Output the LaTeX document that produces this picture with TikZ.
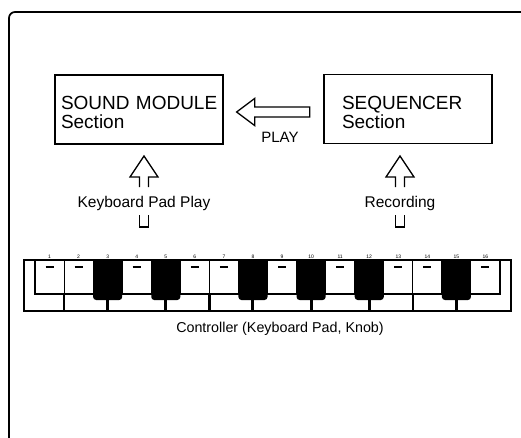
\documentclass[tikz,border=0pt]{standalone}
\usepackage{fontspec}
\setmainfont{Liberation Sans}
\usepackage{tikz}

\begin{document}
\begin{tikzpicture}[x=1pt, y=1pt]

\tikzset{
  box/.style    = {rectangle, draw=black, line width=1.3pt, minimum width=168pt,
                   minimum height=69pt, inner sep=0pt, align=left,
                   font=\fontsize{19}{19}\selectfont},
  lbl/.style    = {inner sep=0pt, anchor=base, font=\fontsize{15.5}{16}\selectfont},
  num/.style    = {inner sep=0pt, anchor=south, font=\fontsize{5}{5}\selectfont},
  fat/.style    = {line width=1.3pt, line join=miter},
  keyln/.style  = {line width=1.1pt},
  pics/fathead/.style = {code={
      \draw[fat] (-4.5,0) -- (-4.5,10) -- (-14,10) -- (0,31) -- (14,10) -- (4.5,10) -- (4.5,0);}},
  pics/fattail/.style = {code={
      \draw[fat] (-4.5,0) -- (-4.5,-12) -- (4.5,-12) -- (4.5,0);}},
  pics/fatleft/.style = {code={
      \draw[fat] (0,0) -- (18,13.5) -- (18,5) -- (73,5) -- (73,-5) -- (18,-5) -- (18,-13.5) -- cycle;}}
}

\useasboundingbox (0,0) rectangle (521,-437);

%% ── Frame ───────────────────────────────────────────────────────
\draw[line width=1.7pt, rounded corners=6pt] (9,-445) -- (9,-12) -- (530,-12);

%% ── Sections ────────────────────────────────────────────────────
\node[box, text width=156pt] (sound) at (139,-109.5)
     {\rule{0pt}{20pt}\mbox{SOUND MODULE}\\Section};
\node[box, text width=132pt] (seq)   at (408,-109)
     {\rule{0pt}{20pt}SEQUENCER\\Section};

%% ── PLAY ────────────────────────────────────────────────────────
\pic at ([xshift=13pt,yshift=-2.5pt]sound.east) {fatleft};
\node[lbl, font=\fontsize{15}{16}\selectfont] (play) at (280,-142) {PLAY};

%% ── Inputs ──────────────────────────────────────────────────────
\node[lbl] (kbplay) at (144,-207) {Keyboard Pad Play};
\node[lbl] (rec)    at (400,-207) {Recording};

\pic at ([yshift=20pt]kbplay.base) {fathead};
\pic at ([yshift=-8pt]kbplay.base) {fattail};
\pic at ([yshift=20pt]rec.base)    {fathead};
\pic at ([yshift=-8pt]rec.base)    {fattail};

%% ── Controller ──────────────────────────────────────────────────
\foreach \k in {1,2,4,6,7,9,11,13,14,16} {
  \draw[keyln] ({35+(\k-1)*29.0625},-260) rectangle ++(29.0625,-34);
  \draw[line width=1.4pt] ({35+(\k-0.5)*29.0625-4},-267) -- ++(8,0);
}
\foreach \k in {3,5,8,10,12,15} {
  \fill ({35+(\k-1)*29.0625},-260) [rounded corners=3pt] -- ++(0,-40)
        -- ++(29.0625,0) [sharp corners] -- ++(0,40) -- cycle;
  \draw[line width=3pt] ({35+(\k-0.5)*29.0625},-300) -- ++(0,-11);
}
\foreach \x in {64.06,209.44,412.81}
  \draw[line width=2.6pt] (\x,-294) -- (\x,-311);
\draw[line width=1.2pt] (24,-260) rectangle (511,-311);

\foreach \k in {1,...,16}
  \node[num] (n\k) at ({35+(\k-0.5)*29.0625},-259) {\k};

\node[lbl, font=\fontsize{14.3}{15}\selectfont] (ctrl) at (280,-332)
     {Controller (Keyboard Pad, Knob)};

\end{tikzpicture}
\end{document}
